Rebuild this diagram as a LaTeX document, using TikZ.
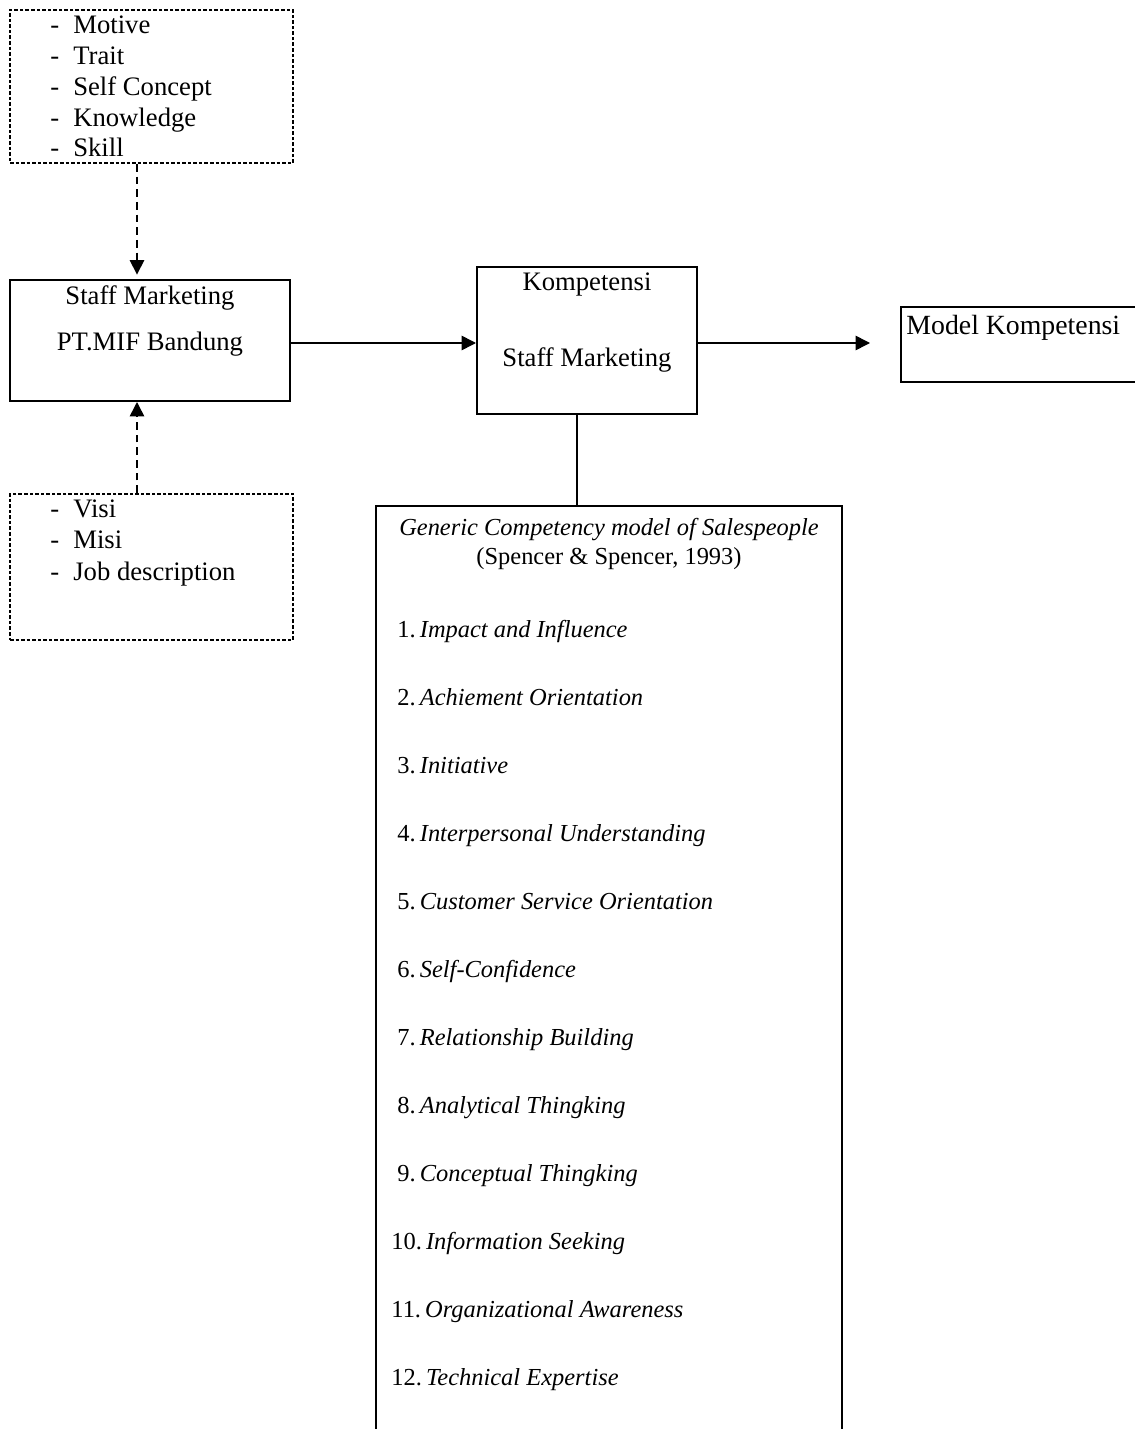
\documentclass[tikz,border=0pt]{standalone}
\usepackage{fontspec}
\setmainfont{Liberation Serif}
\usepackage{tikz}
\usetikzlibrary{calc,arrows.meta}
\usetikzlibrary{positioning}

\def\upx{0.45pt}
\tikzset{
	kotak/.style={draw, line width=0.9pt, inner sep=0pt},
	kotakputus/.style={kotak, dash pattern=on 1.6pt off 0.9pt},
	teks/.style={inner sep=0pt, anchor=base},
	teksk/.style={inner sep=0pt, anchor=base west},
	kecil/.style={font=\fontsize{11}{13}\selectfont},
	panah/.style={-{Triangle[length=6.5pt,width=6.5pt]}, line width=0.7pt},
	putus/.style={dash pattern=on 3.5pt off 2.2pt},
}

\begin{document}
\begin{tikzpicture}[x=\upx, y=-\upx, font=\fontsize{12}{14}\selectfont]
						\useasboundingbox (0,0) rectangle (1134,1429);
						% kotak
						\node[kotakputus, minimum width=283*\upx, minimum height=153*\upx] (faktor) at (151.5,86.5) {};
						\node[kotak, minimum width=280*\upx, minimum height=121*\upx] (staff) at (150,340.5) {};
						\node[kotakputus, minimum width=283*\upx, minimum height=146*\upx] (acuan) at (151.5,567) {};
						\node[kotak, minimum width=220*\upx, minimum height=147*\upx] (komp) at (587,340.5) {};
						\node[kotak, minimum width=239*\upx, minimum height=75*\upx] (model) at (1020.5,344.5) {};
						\node[kotak, minimum width=466*\upx, minimum height=934*\upx] (generik) at (609,973) {};
						% teks
						\foreach \isi [count=\i] in {Motive, Trait, Self Concept, Knowledge, Skill}
							\node[teksk] (f\i) at (50,{34+30.7*(\i-1)}) {\makebox[10.3pt][l]{-}\isi};
						\foreach \isi [count=\i] in {Visi, Misi, Job description}
							\node[teksk] (a\i) at (50,{517+31.5*(\i-1)}) {\makebox[10.3pt][l]{-}\isi};
						\node[teks] (staff1) at (150,305) {Staff Marketing};
						\node[teks] (staff2) at (150,351) {PT.MIF Bandung};
						\node[teks] (komp1) at (587,291) {Kompetensi};
						\node[teks] (komp2) at (587,366) {Staff Marketing};
						\node[teksk, font=\fontsize{12.5}{14}\selectfont] (model1) at (906,335) {Model Kompetensi};
						\node[teks, kecil] (judul) at (609,535) {\itshape Generic Competency model of Salespeople};
						\node[teks, kecil] (sumber) at (609,564) {(Spencer \& Spencer, 1993)};
						\foreach \isi [count=\i] in {Impact and Influence, Achiement Orientation, Initiative,
								Interpersonal Understanding, Customer Service Orientation, Self-Confidence,
								Relationship Building, Analytical Thingking, Conceptual Thingking}
							\node[teksk, kecil] (g\i) at (397,{637+68*(\i-1)}) {\i.\,\textit{\isi}};
						\foreach \isi [count=\i from 10] in {Information Seeking, Organizational Awareness,
								Technical Expertise}
							\node[teksk, kecil] (g\i) at (391,{637+68*(\i-1)}) {\i.\,\textit{\isi}};
						% panah
						\draw[panah, putus, shorten >=2pt] ($(faktor.south)+(-14.5,0)$) -- ($(staff.north)+(-13,0)$);
						\draw[panah, putus] ($(acuan.north)+(-14.5,0)$) -- ($(staff.south)+(-13,0)$);
						\draw[panah] ($(staff.east)+(0,2.5)$) -- ($(komp.west)+(0,2.5)$);
						\draw[panah, shorten >=30*\upx] ($(komp.east)+(0,2.5)$) -- ($(komp.east -| model.west)+(0,2.5)$);
						\coordinate (turun) at ($(komp.south)+(-10,0)$);
						\draw[line width=0.7pt] (turun) -- (turun |- generik.north); % ke kotak generik
				\end{tikzpicture}
\end{document}
